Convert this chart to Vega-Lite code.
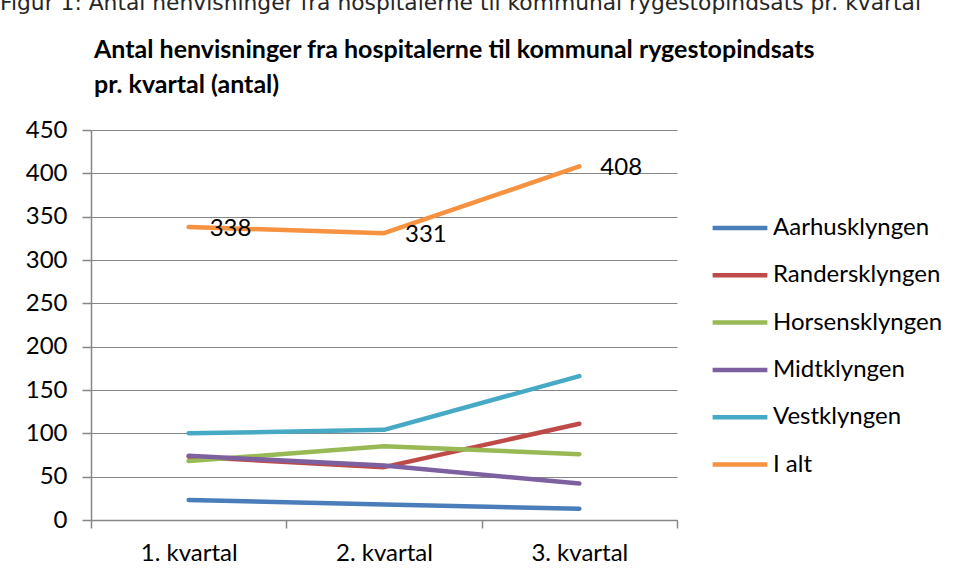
{
  "$schema": "https://vega.github.io/schema/vega-lite/v6.json",
  "padding": {"left": 0, "top": -7, "right": 8, "bottom": 4},
  "background": "white",
  "config": {"font": "Lato", "view": {"stroke": null}},
  "title": {
    "text": "Figur 1: Antal henvisninger fra hospitalerne til kommunal rygestopindsats pr. kvartal",
    "anchor": "start", "frame": "group", "dx": -91,
    "font": "DejaVu Sans", "fontSize": 21.8, "fontWeight": "normal", "color": "#262626", "offset": 23
  },
  "vconcat": [
    {
      "width": 586,
      "height": 390,
      "title": {
        "text": ["Antal henvisninger fra hospitalerne til kommunal rygestopindsats", "pr. kvartal (antal)"],
        "anchor": "start", "frame": "group", "dx": 3,
        "fontSize": 25, "fontWeight": "bold", "lineHeight": 35, "offset": 20, "color": "black"
      },
      "data": {
        "values": [
          {"kvartal": "1. kvartal", "serie": "Aarhusklyngen", "antal": 23},
          {"kvartal": "2. kvartal", "serie": "Aarhusklyngen", "antal": 18},
          {"kvartal": "3. kvartal", "serie": "Aarhusklyngen", "antal": 13},
          {"kvartal": "1. kvartal", "serie": "Randersklyngen", "antal": 73},
          {"kvartal": "2. kvartal", "serie": "Randersklyngen", "antal": 61},
          {"kvartal": "3. kvartal", "serie": "Randersklyngen", "antal": 111},
          {"kvartal": "1. kvartal", "serie": "Horsensklyngen", "antal": 68},
          {"kvartal": "2. kvartal", "serie": "Horsensklyngen", "antal": 85},
          {"kvartal": "3. kvartal", "serie": "Horsensklyngen", "antal": 76},
          {"kvartal": "1. kvartal", "serie": "Midtklyngen", "antal": 74},
          {"kvartal": "2. kvartal", "serie": "Midtklyngen", "antal": 63},
          {"kvartal": "3. kvartal", "serie": "Midtklyngen", "antal": 42},
          {"kvartal": "1. kvartal", "serie": "Vestklyngen", "antal": 100},
          {"kvartal": "2. kvartal", "serie": "Vestklyngen", "antal": 104},
          {"kvartal": "3. kvartal", "serie": "Vestklyngen", "antal": 166},
          {"kvartal": "1. kvartal", "serie": "I alt", "antal": 338},
          {"kvartal": "2. kvartal", "serie": "I alt", "antal": 331},
          {"kvartal": "3. kvartal", "serie": "I alt", "antal": 408}
        ]
      },
      "encoding": {
        "x": {
          "field": "kvartal", "type": "nominal", "sort": null,
          "scale": {"type": "band", "paddingInner": 0, "paddingOuter": 0},
          "axis": {
            "title": null, "labelAngle": 0, "tickBand": "extent",
            "tickSize": 8, "labelPadding": 13, "labelFontSize": 24, "labelColor": "black",
            "domainColor": "#868686", "tickColor": "#868686", "domainWidth": 1.5, "tickWidth": 1.5
          }
        },
        "y": {
          "field": "antal", "type": "quantitative",
          "scale": {"domain": [0, 450], "nice": false},
          "axis": {
            "title": null, "values": [0, 50, 100, 150, 200, 250, 300, 350, 400, 450],
            "grid": true, "gridColor": "#868686", "gridWidth": 1.2,
            "domainColor": "#868686", "tickColor": "#868686", "domainWidth": 1.5, "tickWidth": 1.5,
            "tickSize": 9, "labelPadding": 15, "labelFontSize": 24, "labelColor": "black"
          }
        }
      },
      "layer": [
        {
          "mark": {"type": "line", "strokeWidth": 4.5, "strokeCap": "round", "strokeJoin": "round"},
          "encoding": {
            "color": {
              "field": "serie", "type": "nominal",
              "scale": {
                "domain": ["Aarhusklyngen", "Randersklyngen", "Horsensklyngen", "Midtklyngen", "Vestklyngen", "I alt"],
                "range": ["#4A7EBB", "#BE4B48", "#98B954", "#7D60A0", "#46AAC5", "#F69240"]
              },
              "legend": {
                "title": null, "orient": "none", "legendX": 619, "legendY": 68,
                "symbolType": "stroke", "symbolSize": 3000, "symbolStrokeWidth": 4.5,
                "labelFontSize": 24, "labelColor": "black", "labelOffset": 3, "labelLimit": 400, "rowPadding": 5.3
              }
            }
          }
        },
        {
          "transform": [{"filter": "datum.serie === 'I alt'"}],
          "mark": {"type": "text", "align": "left", "baseline": "middle", "dx": 21, "dy": 2, "fontSize": 24, "color": "black"},
          "encoding": {"text": {"field": "antal", "type": "quantitative"}}
        }
      ]
    }
  ]
}
